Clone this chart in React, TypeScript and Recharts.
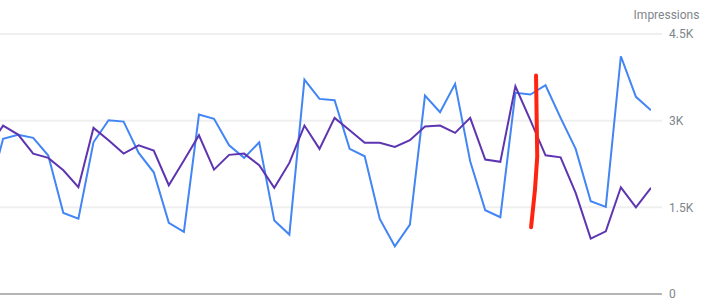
import { LineChart, Line, XAxis, YAxis, CartesianGrid, ReferenceLine } from 'recharts';

// one point per day, index 0 sits just off the left edge of the crop
const dayIndex = Array.from({ length: 45 }, (_, i) => i);

const impressions = [
  1690, 2685, 2754, 2702, 2396, 1404, 1305, 2626, 3007, 2984, 2442, 2107, 1231, 1075, 3105,
  3031, 2574, 2356, 2626, 1271, 1028, 3711, 3377, 3353, 2512, 2384, 1300, 826, 1201, 3434,
  3145, 3637, 2297, 1449, 1328, 3481, 3452, 3613, 3048, 2512, 1605, 1508, 4115, 3412, 3180,
];

const impressionsCompare = [
  2518, 2915, 2759, 2430, 2356, 2141, 1847, 2875, 2661, 2430, 2574, 2482, 1882, 2309, 2747,
  2153, 2408, 2430, 2228, 1837, 2269, 2915, 2512, 3048, 2834, 2616, 2616, 2546, 2661, 2898,
  2915, 2789, 3048, 2326, 2287, 3595, 3005, 2401, 2366, 1750, 959, 1085, 1847, 1501, 1837,
];

const yTicks = [0, 1500, 3000, 4500];

// hand drawn red mark, bottom to top
const markX = [36.04, 36.3, 36.45, 36.37];
const markY = [1155, 1807, 2378, 3780];

const data = dayIndex.map((x, i) => ({
  x,
  impressions: impressions[i],
  compare: impressionsCompare[i],
}));

const markData = markX.map((x, i) => ({ x, mark: markY[i] }));

const formatK = (v: number) => (v === 0 ? '0' : `${v / 1000}K`);

const tickStyle = { fontFamily: 'Roboto, sans-serif', fontSize: 12, fill: '#80868b' };

export default function App() {
  return (
    <div style={{ position: 'absolute', left: 0, top: 0, width: 705, height: 299, overflow: 'hidden', background: '#fff' }}>
      <div style={{ position: 'absolute', left: -23, top: 0 }}>
        <LineChart width={728} height={299} data={data} margin={{ top: 34, right: 0, bottom: 5, left: 0 }}>
          <CartesianGrid horizontal vertical={false} stroke="#efefef" strokeWidth={2} />
          <XAxis
            dataKey="x"
            type="number"
            domain={[0, 44]}
            allowDataOverflow
            padding={{ left: 11, right: 11 }}
            hide
          />
          <YAxis
            orientation="right"
            width={43}
            domain={[0, 4500]}
            ticks={yTicks}
            interval={0}
            tickFormatter={formatK}
            axisLine={false}
            tickLine={false}
            tickMargin={1}
            tick={tickStyle}
            label={{
              value: 'Impressions',
              position: 'top',
              offset: 15,
              dx: -17,
              style: { fontFamily: 'Roboto, sans-serif', fontSize: 12, fill: '#80868b' },
            }}
          />
          <ReferenceLine y={0} stroke="#b5b5b5" strokeWidth={2} />
          <Line
            dataKey="impressions"
            type="linear"
            stroke="#4285f4"
            strokeWidth={2}
            dot={false}
            isAnimationActive={false}
          />
          <Line
            dataKey="compare"
            type="linear"
            stroke="#5e35b1"
            strokeWidth={2}
            dot={false}
            isAnimationActive={false}
          />
          <Line
            data={markData}
            dataKey="mark"
            type="linear"
            stroke="#ff2410"
            strokeWidth={4}
            strokeLinecap="round"
            dot={false}
            isAnimationActive={false}
          />
        </LineChart>
      </div>
    </div>
  );
}
